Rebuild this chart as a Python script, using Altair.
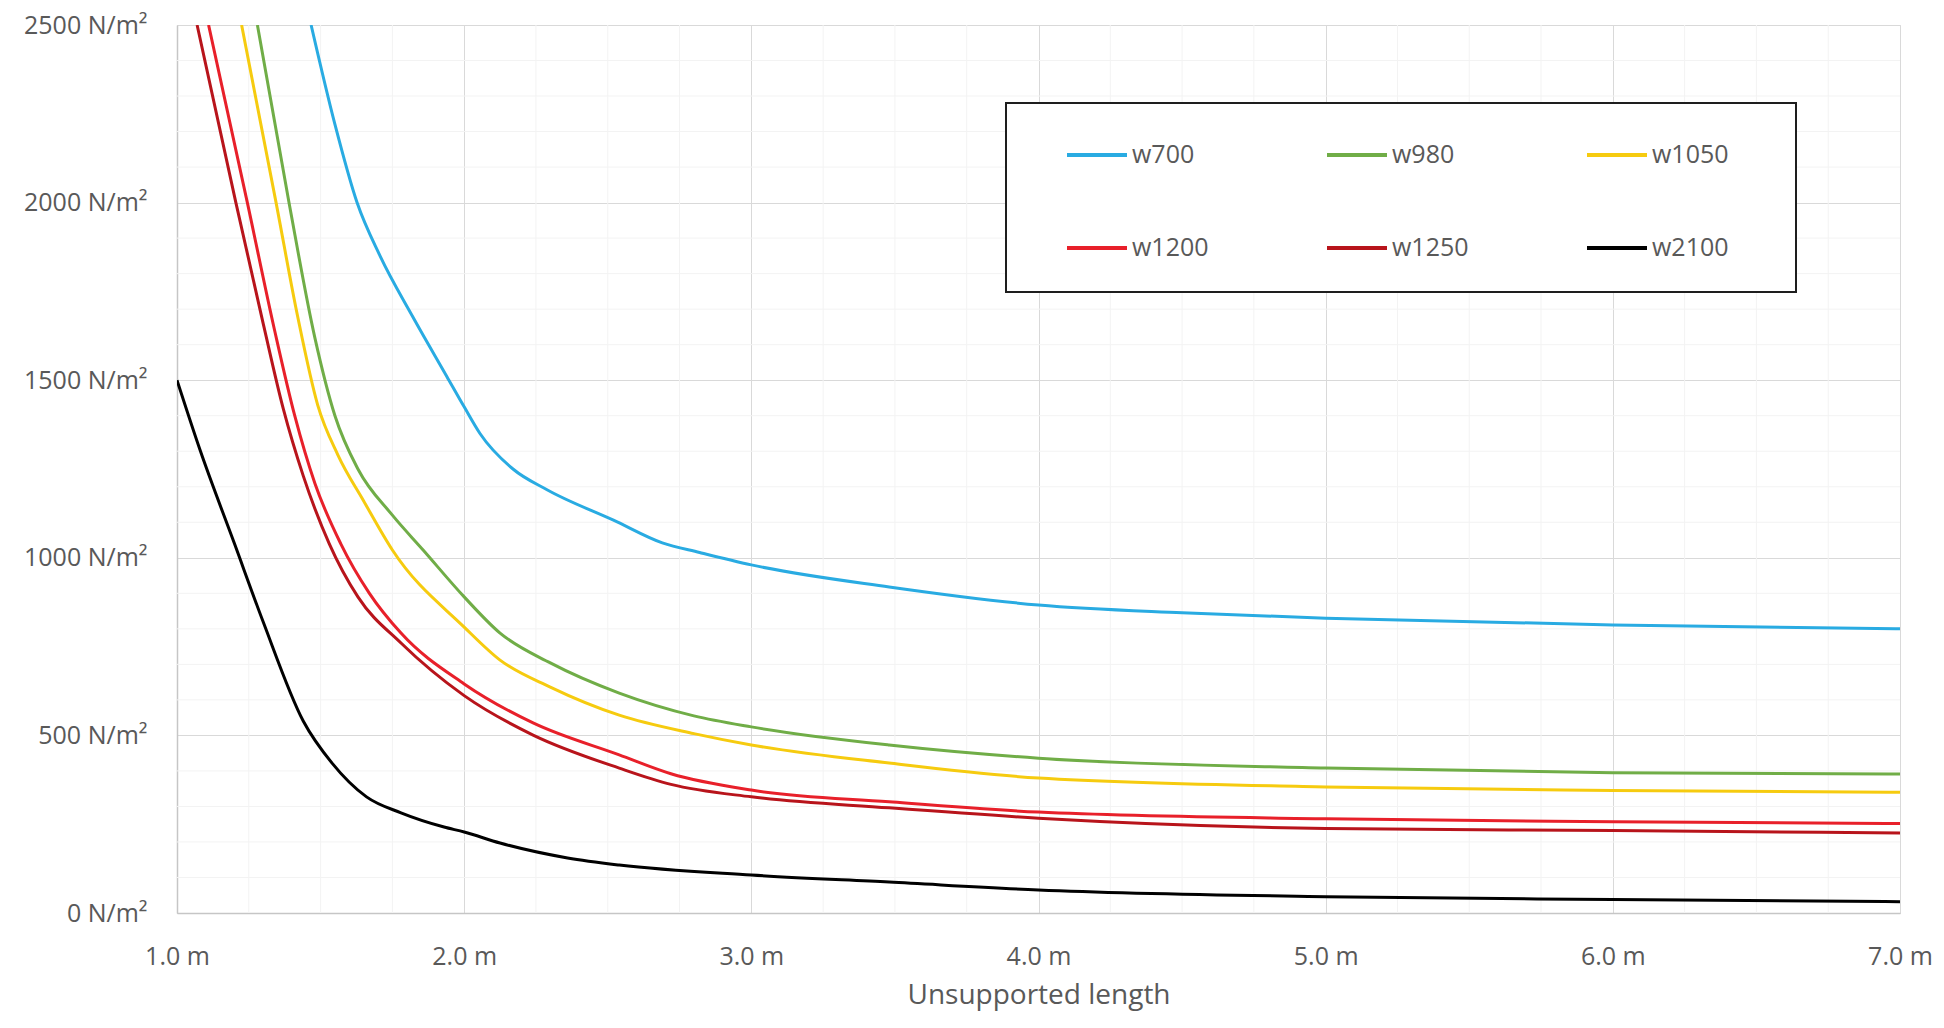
import altair as alt
import pandas as pd

# ---- data ----
series_names = ["w700", "w980", "w1050", "w1200", "w1250", "w2100"]
series_colors = ["#29ABE2", "#70AD47", "#F6CB0F", "#E8202A", "#B8141B", "#000000"]
# legend fills column by column: this order gives rows w700/w980/w1050 and w1200/w1250/w2100
legend_order = ["w700", "w1200", "w980", "w1250", "w1050", "w2100"]

w700_x = [1.467, 1.55, 1.627, 1.707, 1.82, 1.94, 2.0, 2.055, 2.17, 2.29, 2.52, 2.69, 2.82, 3.0, 3.48, 4.0, 4.5, 5.0, 6.0, 7.0]
w700_y = [2500, 2220, 2000, 1850, 1680, 1510, 1425, 1350, 1250, 1191, 1106, 1042, 1015, 980, 918, 867, 845, 830, 811, 800]

w980_x = [1.28, 1.39, 1.48, 1.55, 1.63, 1.75, 1.857, 2.0, 2.125, 2.30, 2.54, 2.8, 3.0, 3.48, 4.0, 5.0, 6.0, 7.0]
w980_y = [2500, 2000, 1620, 1400, 1250, 1120, 1022, 890, 788, 704, 619, 555, 524, 473, 436, 408, 395, 391]

w1050_x = [1.225, 1.345, 1.42, 1.49, 1.56, 1.65, 1.75, 2.0, 2.125, 2.30, 2.54, 2.8, 3.0, 3.48, 4.0, 5.0, 6.0, 7.0]
w1050_y = [2500, 2000, 1680, 1430, 1290, 1160, 1022, 805, 712, 636, 557, 505, 473, 422, 380, 355, 345, 340]

w1200_x = [1.11, 1.245, 1.34, 1.41, 1.48, 1.57, 1.67, 1.78, 2.0, 2.24, 2.54, 2.72, 3.0, 3.48, 4.0, 5.0, 6.0, 7.0]
w1200_y = [2500, 2000, 1640, 1400, 1210, 1040, 900, 788, 645, 535, 445, 392, 346, 313, 284, 265, 257, 252]

w1250_x = [1.07, 1.205, 1.30, 1.37, 1.44, 1.53, 1.63, 1.78, 2.0, 2.24, 2.54, 2.72, 3.0, 3.48, 4.0, 5.0, 6.0, 7.0]
w1250_y = [2500, 2000, 1660, 1420, 1230, 1040, 890, 760, 612, 501, 408, 362, 327, 296, 267, 238, 232, 225]

w2100_x = [1.0, 1.08, 1.2, 1.3, 1.44, 1.54, 1.66, 1.78, 1.93, 2.0, 2.125, 2.36, 2.54, 3.0, 3.48, 4.0, 5.0, 6.0, 7.0]
w2100_y = [1500, 1304, 1040, 820, 540, 422, 327, 282, 242, 228, 197, 155, 135, 107, 87, 65, 46, 38, 32]

x_ticks = [1, 2, 3, 4, 5, 6, 7]
y_ticks = [0, 500, 1000, 1500, 2000, 2500]
minor_x = [1.25, 1.5, 1.75, 2.25, 2.5, 2.75, 3.25, 3.5, 3.75, 4.25, 4.5, 4.75,
           5.25, 5.5, 5.75, 6.25, 6.5, 6.75]
minor_y = [100, 200, 300, 400, 600, 700, 800, 900, 1100, 1200, 1300, 1400,
           1600, 1700, 1800, 1900, 2100, 2200, 2300, 2400]

# ---- build table ----
xs = [w700_x, w980_x, w1050_x, w1200_x, w1250_x, w2100_x]
ys = [w700_y, w980_y, w1050_y, w1200_y, w1250_y, w2100_y]
rows = []
for name, sx, sy in zip(series_names, xs, ys):
    for i, (a, b) in enumerate(zip(sx, sy)):
        rows.append({"series": name, "x": a, "y": b, "order": i})
df = pd.DataFrame(rows)

FONT = "Open Sans"
GRAY = "#595959"

xscale = alt.Scale(domain=[1, 7], nice=False, zero=False)
yscale = alt.Scale(domain=[0, 2500], nice=False)

minor_v = alt.Chart(pd.DataFrame({"mx": minor_x})).mark_rule(
    color="#f3f3f3", strokeWidth=1
).encode(x=alt.X("mx:Q", scale=xscale))

minor_h = alt.Chart(pd.DataFrame({"my": minor_y})).mark_rule(
    color="#f3f3f3", strokeWidth=1
).encode(y=alt.Y("my:Q", scale=yscale))

lines = alt.Chart(df).mark_line(
    strokeWidth=3, interpolate="monotone", clip=True
).encode(
    x=alt.X(
        "x:Q",
        scale=xscale,
        axis=alt.Axis(
            values=x_ticks,
            labelExpr="format(datum.value, '.1f') + ' m'",
            title="Unsupported length",
            grid=True,
            gridColor="#d9d9d9",
            domainColor="#c6c6c6",
            domainWidth=1.5,
            ticks=False,
            labelFlush=False,
            labelPadding=31,
            labelFontSize=25,
            labelFont=FONT,
            labelColor=GRAY,
            titleFont=FONT,
            titleFontSize=28,
            titleFontWeight="normal",
            titleColor=GRAY,
            titlePadding=12,
        ),
    ),
    y=alt.Y(
        "y:Q",
        scale=yscale,
        axis=alt.Axis(
            values=y_ticks,
            labelExpr="datum.value + ' N/m²'",
            title=None,
            grid=True,
            gridColor="#d9d9d9",
            domainColor="#c6c6c6",
            domainWidth=1.5,
            ticks=False,
            labelPadding=30,
            labelFontSize=25,
            labelFont=FONT,
            labelColor=GRAY,
        ),
    ),
    color=alt.Color(
        "series:N",
        scale=alt.Scale(domain=series_names, range=series_colors),
        legend=alt.Legend(
            title=None,
            values=legend_order,
            orient="none",
            legendX=888,
            legendY=98,
            columns=3,
            gridAlign="all",
            columnPadding=110,
            rowPadding=48,
            padding=0,
            symbolType="stroke",
            symbolSize=3600,
            symbolStrokeWidth=4,
            labelFontSize=25,
            labelFont=FONT,
            labelColor=GRAY,
            labelOffset=3,
            labelLimit=200,
        ),
    ),
    order="order:Q",
)

legend_box = alt.Chart(pd.DataFrame({"b": [0]})).mark_rect(
    fill="white", stroke="#1e1e1e", strokeWidth=2
).encode(
    x=alt.value(829), x2=alt.value(1619), y=alt.value(78), y2=alt.value(267)
)

chart = alt.layer(minor_v, minor_h, legend_box, lines).properties(
    width=1723,
    height=888,
    autosize=alt.AutoSizeParams(type="none"),
    padding={"left": 169, "top": 17, "right": 36, "bottom": 106},
).configure_view(stroke=None).configure(background="white")

chart.save("out.html", embed_options={"renderer": "svg", "actions": False})
